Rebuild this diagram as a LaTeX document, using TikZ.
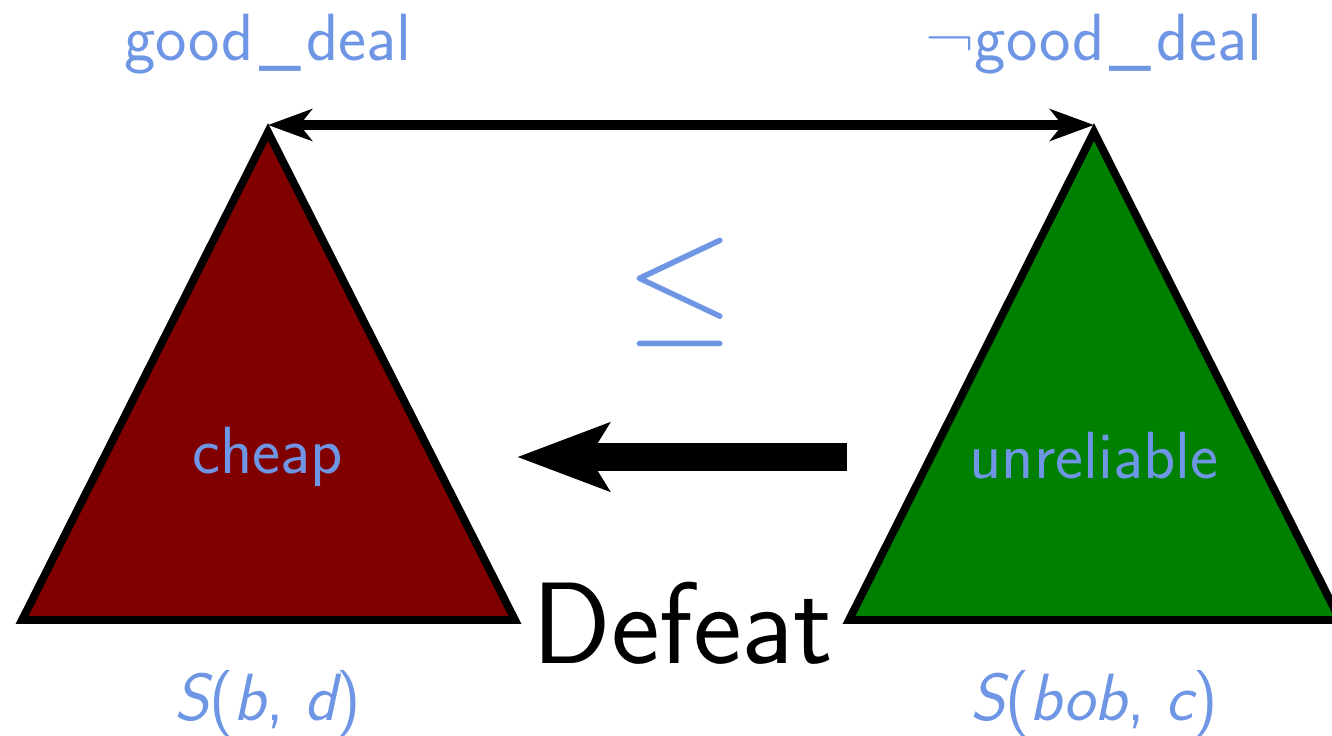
\documentclass[tikz,border=0pt]{standalone}
\usepackage{fontspec}
\usepackage{amsmath}
\usepackage{amssymb}
\usepackage{graphicx}
\usepackage{tikz}
\usetikzlibrary{arrows.meta}
\definecolor{lblue}{RGB}{110,150,228}
\colorlet{argred}{red!50!black}
\colorlet{arggreen}{green!50!black}
\def\us{\kern3pt\_\kern3pt}
\tikzset{
	tree/.style={line width=4.5pt,draw=black,line join=miter},
	claim/.style={text=lblue,font=\sffamily\fontsize{38}{38}\selectfont,anchor=base,inner sep=0pt},
	prem/.style={text=lblue,font=\sffamily\fontsize{38}{38}\selectfont,anchor=base,inner sep=0pt},
	attack/.style={line width=5.5pt,{Stealth[length=25pt,width=18pt,inset=7pt]}-{Stealth[length=25pt,width=18pt,inset=7pt]}},
	defeat/.style={line width=16pt,-{Stealth[length=52pt,width=38pt,inset=11pt]}},
}
\newcommand{\sit}[1]{{\itshape #1}}
\begin{document}
\begin{tikzpicture}[x=0.02cm,y=-0.02cm]
\useasboundingbox (0,0) rectangle (1332,735);

% the two argument trees
\coordinate (a1) at (268,132);
\coordinate (a2) at (1094,132);
\draw[tree,fill=argred] (a1) -- (22,620) coordinate (l1) -- (515,620) coordinate (r1) -- cycle;
\draw[tree,fill=arggreen] (a2) -- (849,620) coordinate (l2) -- (1340,620) coordinate (r2) -- cycle;

% conclusions, premises and supports
\node[claim] (c1) at (268,60) {good\us deal};
\node[claim] (c2) at (1094,60) {¬good\us deal};
\node[prem] (p1) at (268,473) {cheap};
\node[prem] (p2) at (1094,478) {unreliable};
\node[claim] (s1) at (268,720) {\sit{S}(\sit{b}, \sit{d})};
\node[claim] (s2) at (1094,720) {\sit{S}(\sit{bob}, \sit{c})};

% rebuttal between the conclusions
\coordinate (t1) at (268,125);
\coordinate (t2) at (1094,125);
\draw[attack] (t1) -- (t2);
\node[text=lblue,inner sep=0pt,font=\fontsize{10}{10}\selectfont] (leq) at (680,292) {\scalebox{8}{$\leq$}};

% defeat
\coordinate (d1) at (847,457);
\coordinate (d2) at (517,457);
\draw[defeat] (d1) -- (d2);
\node[anchor=base,inner sep=0pt,font=\sffamily\fontsize{66}{66}\selectfont] (def) at (683,663) {Defeat};
\end{tikzpicture}
\end{document}
